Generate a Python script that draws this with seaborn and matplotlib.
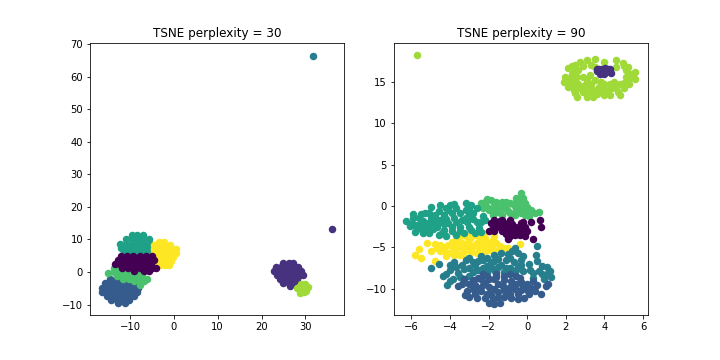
import matplotlib
matplotlib.use("Agg")
import matplotlib.pyplot as plt
import seaborn as sns

# Left panel (perplexity 30), by cluster
l_blue = [(-14.5,-2.2),(-13.2,-2.2),(-11.8,-2.2),(-10.6,-2.2),(-15.6,-3.5),(-14.3,-3.5),(-12.9,-3.5),(-11.5,-3.5),(-10.1,-3.5),(-9,-3.5),(-16.3,-4.9),(-15,-4.9),(-13.6,-4.9),(-12.2,-4.9),(-10.8,-4.9),(-9.4,-4.9),(-8.2,-4.9),(-16.4,-6.2),(-15.2,-6.2),(-13.8,-6.2),(-12.4,-6.2),(-11,-6.2),(-9.6,-6.2),(-8.5,-6.2),(-15.3,-7.5),(-14,-7.5),(-12.6,-7.5),(-11.2,-7.5),(-9.8,-7.5),(-9,-7.5),(-14.2,-8.7),(-12.9,-8.7),(-11.5,-8.7),(-10.2,-8.7),(-12.8,-9.5),(-11.2,-9.5)]
l_green = [(-13.6,1.3),(-12.3,1),(-11,0.6),(-9.7,0.4),(-8.5,0),(-7.2,-0.6),(-14.9,-0.2),(-13.6,-0.1),(-12.3,-0.4),(-11,-0.8),(-9.7,-1),(-8.5,-1.3),(-7.2,-1.7),(-6,-2.2),(-11.5,-2),(-10.2,-2.3),(-9,-2.7),(-7.8,-3),(-7.8,-4),(-6.8,-2.7),(-13,-1.3)]
l_tealgreen = [(-9.6,11.3),(-8.4,11.3),(-7,11.3),(-11,10),(-9.6,10),(-8.3,10),(-7,10),(-5.7,10),(-12.2,8.7),(-10.9,8.7),(-9.5,8.7),(-8.2,8.7),(-6.8,8.7),(-5.4,8.7),(-12,7.4),(-10.7,7.4),(-9.3,7.4),(-8,7.4),(-6.6,7.4),(-5.3,7.4),(-11.3,6.2),(-10,6.2),(-8.6,6.2),(-7.3,6.2),(-6,6.2)]
l_yellow = [(-3.4,9.3),(-2.2,9.3),(-4.5,8.2),(-3.2,8.2),(-1.9,8.2),(-0.8,8.2),(-4.5,7),(-3.2,7),(-1.9,7),(-0.6,7),(0.4,7),(-4.4,5.8),(-3.2,5.8),(-1.9,5.8),(-0.6,5.8),(0.4,5.8),(-3.8,4.6),(-2.5,4.6),(-1.2,4.6),(-0.2,4.6),(-3.8,3.3),(-2.6,3.3),(-1.3,3.3),(-0.6,3.3),(-3.2,2.1),(-2,2.1),(-1,2.1)]
l_purple = [(-12,5),(-10.6,5),(-9.2,5),(-7.8,5),(-6.4,5),(-5,5),(-12.8,3.7),(-11.4,3.7),(-10,3.7),(-8.6,3.7),(-7.2,3.7),(-5.8,3.7),(-4.6,3.7),(-13.5,2.4),(-12.2,2.4),(-10.8,2.4),(-9.4,2.4),(-8,2.4),(-6.6,2.4),(-5.2,2.4),(-11.8,1.2),(-10.5,1.2),(-9,1.2),(-7.6,1.2),(-6.2,1.2),(-5,1.2),(-4.1,1.2),(-6.8,0.2),(-5.7,0.2),(-9,0.2)]
l_lime = [(28,-5),(28.9,-3.8),(30,-3.6),(30.6,-4.7),(29.5,-5),(28.8,-6.3),(29.6,-6),(30.2,-5.7),(28.5,-4.7)]
l_indigo = [(25,2.7),(26.2,2.7),(27.2,2.7),(23.2,1.5),(24.5,1.5),(25.8,1.5),(27,1.5),(28.2,1.5),(22.9,0.2),(24.2,0.2),(25.5,0.2),(26.8,0.2),(28,0.2),(29,0.2),(23.6,-1),(24.9,-1),(26.2,-1),(27.5,-1),(28.8,-1),(29.4,-1),(24.3,-2.2),(25.6,-2.2),(26.9,-2.2),(28.1,-2.2),(25,-3.4),(26.2,-3.4),(27.4,-3.4),(26.6,-4.4),(36,13.3)]
l_teal = [(31.7,66.4)]

# Right panel (perplexity 90), by cluster
r_yellow = [(-5.2,-4.5),(-5.6,-5.2),(-5.8,-6),(-5.5,-6.3),(-5,-5.4),(-4.8,-4.6),(-4.8,-6.7),(-4.5,-4.7),(-4.5,-5.5),(-4.2,-6.1),(-4.1,-4.7),(-3.85,-5.1),(-3.7,-4.1),(-3.8,-5.9),(-3.4,-4.5),(-3.3,-5.5),(-3,-4.1),(-3,-5.1),(-3.2,-6.3),(-2.6,-4.5),(-2.6,-5.7),(-2.3,-3.3),(-2.2,-4.7),(-2.2,-5.5),(-1.8,-4.1),(-1.85,-5.1),(-1.4,-4.9),(-1,-5.1),(-0.4,-4.6),(-4.1,-5.7),(-3.5,-3.7),(-2.55,-3.7),(-4.3,-5),(-4.7,-5.1),(-4.3,-5.5),(-3.9,-4.4),(-3.7,-5.4),(-3.6,-4.9),(-3.4,-5),(-3.1,-4.6),(-2.9,-5.6),(-2.8,-4.8),(-2.5,-5.1),(-2.4,-4.2),(-2,-4.5),(-2,-5.3),(-1.6,-4.5),(-1.6,-5.4),(-1.2,-5.1),(-3.5,-6),(-2.9,-3.8),(-2.2,-3.9),(-3.2,-3.7),(-1.7,-3.6)]
r_teal = [(-5,-7.5),(-4.6,-7),(-4.35,-8.5),(-4.15,-9.6),(-4,-7.1),(-4,-7.7),(-3.8,-6.8),(-3.6,-8.1),(-3.85,-8.9),(-3.3,-8.9),(-3.4,-7.1),(-3,-6.3),(-3,-7.5),(-3,-8.5),(-2.55,-6.7),(-2.55,-7.7),(-2.1,-6.3),(-2.1,-7.3),(-1.7,-6.7),(-1.7,-7.7),(-1.35,-5.7),(-1.35,-7.1),(-0.9,-6.3),(-0.9,-7.5),(-0.65,-5.1),(-0.5,-5.7),(-0.5,-7.3),(-0.2,-6.1),(0.5,-4.9),(0.45,-5.9),(0.1,-7),(0.15,-7.7),(0.5,-6.7),(0.75,-7.3),(0.3,-8.1),(0.75,-8.3),(1.05,-7.4),(1.25,-8.6),(1.2,-7.9),(0.85,-8.9),(-0.2,-7.9),(0.3,-8.7),(-1.2,-8),(-2.1,-8),(-3.7,-7.4),(-3.3,-7.6),(-3.2,-6.5),(-2.8,-6.8),(-2.7,-7.2),(-2.3,-6.6),(-2.3,-7.5),(-1.9,-6.8),(-1.9,-7.4),(-1.5,-6.4),(-1.5,-7.4),(-1.1,-6.6),(-1.1,-7.5),(-0.7,-6.8),(-0.6,-7.8),(-0.3,-6.6),(-0.3,-7.2),(-1,-5.8),(-0.8,-5.5),(-2.8,-8),(-1.6,-8),(-0.8,-8),(-4.2,-8.2),(-3.5,-8.6),(-4,-9.1),(1,-8.3),(0.6,-7.9),(-1.7,-6),(-2.4,-6.1)]
r_blue = [(-3.6,-9.7),(-3.3,-8.9),(-3.25,-10.8),(-3,-9.5),(-2.6,-11.2),(-2.55,-8.7),(-2.5,-9.9),(-2.2,-11.2),(-2.1,-8.5),(-2,-11.8),(-1.9,-10.1),(-1.7,-8.9),(-1.5,-11),(-1.25,-9.7),(-1.2,-8.5),(-0.85,-11.2),(-0.85,-9.1),(-0.65,-10.1),(-0.4,-8.7),(-0.2,-9.7),(-0.15,-11.2),(0.1,-10.6),(0.3,-9.1),(0.2,-9.9),(0.7,-10.7),(0.95,-9.7),(1.1,-9.5),(-2.8,-10.1),(-2.2,-9.3),(-1.7,-10.1),(-1,-10.3),(-2.1,-10.6),(-1.4,-11.7),(-3.4,-9.5),(-3.1,-10.3),(-3,-11),(-2.8,-9),(-2.7,-9.6),(-2.7,-10.6),(-2.4,-8.9),(-2.4,-10.3),(-2.3,-9.6),(-2,-8.9),(-2,-9.8),(-1.9,-10.8),(-1.8,-11.4),(-1.6,-8.6),(-1.5,-9.5),(-1.5,-10.4),(-1.2,-9),(-1.2,-10.2),(-1.2,-11),(-0.9,-9.8),(-0.9,-10.7),(-0.6,-8.5),(-0.6,-9.4),(-0.5,-10.7),(-0.3,-9.2),(-0.3,-10.2),(-0.5,-11.3),(0,-9.5),(0,-10.2),(0.5,-9.6),(0.4,-10.3),(-1.7,-11.9),(-1.6,-8.2),(-0.9,-8.3),(-2.3,-8.3)]
r_green = [(-2.4,0.3),(-2.3,-0.3),(-2.1,0.8),(-1.9,0.7),(-1.7,0.3),(-2,-0.5),(-1.8,-1.1),(-1.4,0.1),(-1.1,0.5),(-1.2,-0.3),(-0.9,-0.9),(-0.7,0.1),(-0.6,0.9),(-0.3,1.5),(-0.2,0.9),(-0.4,-0.1),(0,-0.1),(-0.3,-0.9),(0.1,-1.2),(0.6,-0.8),(0.4,-0.9),(-1.5,-0.7),(-1.3,-1.1),(-0.65,-1.1),(-1.7,-0.5),(-2.2,0.5),(-2.1,-0.1),(-1.8,-0.2),(-1.6,0.5),(-1.3,0.5),(-1.1,-0.1),(-0.9,0.3),(-0.6,0.5),(-0.6,-0.4),(-0.4,0.5),(-0.1,0.4),(-0.1,-0.6),(-0.1,-1.1),(-0.6,-0.8),(-1,-0.6),(-0.3,1),(0.2,-0.5),(-1.5,-0.2)]
r_tealgreen = [(-6.3,-1.8),(-6.1,-2.4),(-5.9,-1),(-5.9,-1.5),(-5.8,-3.2),(-5.6,-2.3),(-5.3,-0.9),(-5.4,-3.3),(-5.1,-3.3),(-5.1,-2.1),(-5,-0.1),(-4.8,-1.1),(-4.5,0.1),(-4.7,-2.5),(-4.5,-1.7),(-4.3,-2.9),(-4.1,-0.5),(-4,0.1),(-3.8,0.2),(-3.8,-1.5),(-3.5,-0.9),(-3.5,-2.5),(-3.2,0.3),(-2.9,0.1),(-3.2,-1.5),(-2.8,-0.9),(-3,-2.5),(-2.7,-3.3),(-2.5,-2.7),(-2.2,-1.7),(-2.6,-0.3),(-4.2,-3.7),(-3.9,-3.1),(-3.3,-3.3),(-4.6,-3.5),(-5,-1.5),(-5.3,-2.1),(-5.6,-1.5),(-4.1,-2.1),(-3.2,-0.5),(-4.6,-1.9),(-4.3,-1.1),(-3.9,-2.5),(-3.4,-1.7),(-2.6,-1.9),(-5.8,-2.3),(-5.1,-0.9),(-6,-2.2),(-5.5,-1),(-5.4,-2.8),(-4.9,-2.8),(-4.9,-1.9),(-4.6,-0.6),(-4.3,-2.2),(-4.2,-0.2),(-3.9,-0.9),(-3.7,-2),(-3.7,-0.3),(-3.5,-3),(-3.1,-2),(-3,-1.1),(-3,-0.2),(-2.8,-1.6),(-2.9,-2.9),(-2.4,-2),(-2.3,-1.2),(-2.4,-3.2),(-5.2,-2.6),(-5.7,-2.8),(-4.4,-3.3),(-3.7,-3.5),(-4.8,-1.5),(-4.2,-1.6),(-5.4,-1.8)]
r_purple = [(-1.9,-2.1),(-2,-3.1),(-1.7,-1.7),(-1.3,-1.7),(-1.4,-2.5),(-1.3,-3.1),(-1,-2.1),(-0.9,-2.9),(-1,-4),(-0.65,-3.5),(-0.3,-2.1),(-0.2,-3.3),(-0.4,-2.9),(0,-3.1),(0.2,-1.9),(0.3,-4),(0.65,-1.7),(0.7,-2.6),(-1.6,-2.5),(-1.1,-2.7),(-0.65,-2.5),(-1.8,-2.7),(-1.6,-2.1),(-1.2,-2.4),(-0.9,-1.7),(-0.8,-2.2),(-0.7,-3.1),(-0.4,-2.4),(-0.1,-2.6),(-0.2,-1.9),(-1.1,-3.4),(-1.7,-3),(-0.9,-3.6),(-0.1,-3.6),(-0.4,-3.5),(-1.4,-1.8)]
r_lime = [(-5.7,18.2),(2.1,16.7),(1.95,15.6),(1.9,15),(2.1,14.4),(2.4,14),(2.6,13.2),(3.1,17.6),(3.5,17.8),(4,17.4),(4.6,17.7),(4.95,17.3),(5.2,16.8),(5.6,16.2),(5.6,15.3),(5.1,15.6),(5.3,14.8),(5,14.2),(4.7,13.8),(4.3,13.4),(4,13.4),(3.4,13.2),(3.1,13.2),(2.9,13.8),(3.25,15.8),(2.75,17.4),(2.5,17),(2.4,16.2),(2.3,15.2),(2.65,14.8),(3,14.6),(3.5,16.8),(4.6,16.8),(3.8,15),(4.3,14.8),(4.8,14.8),(3.5,14),(3.85,14.2),(4.4,14.2),(3.25,14.4),(2.65,16.4),(2.9,15.6),(2.3,16),(2.2,15.5),(2.6,15.6),(2.4,14.8),(2.7,14.2),(3,14),(3.3,13.8),(3.6,13.5),(3.9,13.8),(4.2,14),(4.6,14.4),(4.5,15),(5,14.9),(5.3,15.3),(5.4,16),(5.1,16.4),(5,16.9),(3.3,17),(3.5,15.2),(3.1,15.2),(4,14.7),(3.7,14.4),(2.9,16.9),(2.3,16.9),(2.15,14.9),(2.5,13.7),(3.3,14.8),(4.8,13.4)]
r_indigo = [(3.7,16.5),(3.95,16.4),(4.2,16.5),(4.35,16.1),(4,15.9),(3.8,16.2),(3.6,16.3),(3.75,15.9),(4.1,16.2),(4.3,16.5),(3.85,16.6),(4.05,16.7),(3.6,16.6)]

left_title = "TSNE perplexity = 30"
right_title = "TSNE perplexity = 90"
left_xticks = [-10, 0, 10, 20, 30]
left_yticks = [-10, 0, 10, 20, 30, 40, 50, 60, 70]
right_xticks = [-6, -4, -2, 0, 2, 4, 6]
right_yticks = [-10, -5, 0, 5, 10, 15]

c = {name: plt.cm.viridis(i / 7) for i, name in enumerate(
    ["purple", "indigo", "blue", "teal", "tealgreen", "green", "lime", "yellow"])}

fig, (ax1, ax2) = plt.subplots(1, 2, figsize=(10, 5), dpi=72)
fig.subplots_adjust(left=90/720, right=648/720, top=1-43/360, bottom=1-315/360, wspace=0.193)


def dots(ax, pts, col):
    sns.scatterplot(x=[p[0] for p in pts], y=[p[1] for p in pts], color=c[col],
                    s=36, edgecolor="face", linewidth=1.5, legend=False, ax=ax)


for pts, col in [(l_blue, "blue"), (l_green, "green"), (l_tealgreen, "tealgreen"),
                 (l_yellow, "yellow"), (l_purple, "purple"), (l_indigo, "indigo"),
                 (l_lime, "lime"), (l_teal, "teal")]:
    dots(ax1, pts, col)
for pts, col in [(r_yellow, "yellow"), (r_teal, "teal"), (r_blue, "blue"), (r_green, "green"),
                 (r_tealgreen, "tealgreen"), (r_purple, "purple"), (r_lime, "lime"),
                 (r_indigo, "indigo")]:
    dots(ax2, pts, col)

ax1.set_xlim(-19.1, 38.9)
ax1.set_ylim(-13.2, 70.3)
ax1.set_xticks(left_xticks)
ax1.set_yticks(left_yticks)
ax1.set_title(left_title, fontsize=12)
ax2.set_xlim(-6.93, 6.26)
ax2.set_ylim(-13.2, 19.7)
ax2.set_xticks(right_xticks)
ax2.set_yticks(right_yticks)
ax2.set_title(right_title, fontsize=12)

fig.savefig("out.png", dpi=72)
